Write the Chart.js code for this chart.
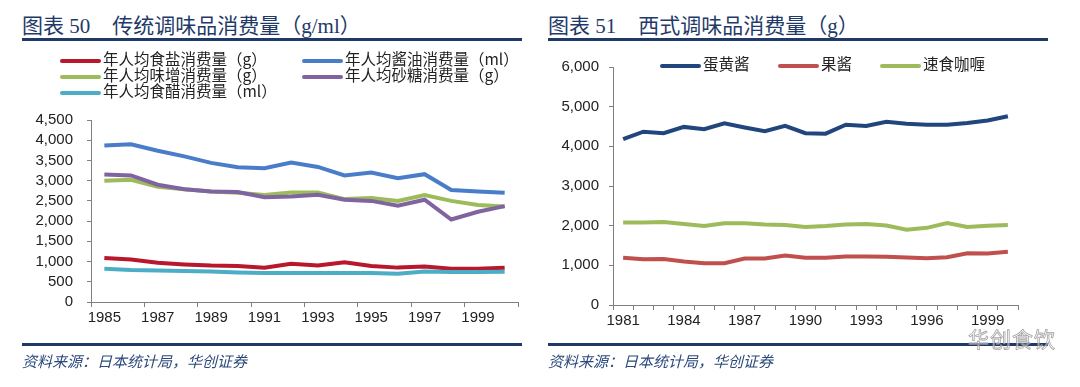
<!DOCTYPE html>
<html>
<head>
  <meta charset="utf-8">
  <title>传统与西式调味品消费量</title>
  <script src="https://cdn.jsdelivr.net/npm/chart.js"></script>
  <style>
    body {
      margin: 0;
      width: 1080px;
      height: 387px;
      background: #ffffff;
      position: relative;
      overflow: hidden;
      font-family: "Noto Sans CJK SC", sans-serif;
    }
    .title {
      position: absolute;
      top: 9px;
      font-family: "Liberation Serif", "Noto Sans CJK SC", serif;
      font-size: 21px;
      color: #1F3A68;
      white-space: nowrap;
    }
    .title .num { margin-right: 22px; }
    .rule {
      position: absolute;
      height: 3px;
      background: #1F3A68;
    }
    .source {
      position: absolute;
      top: 350px;
      font-size: 15px;
      font-style: italic;
      color: #2B4A7C;
    }
    .chart-box {
      position: absolute;
      top: 0;
      width: 540px;
      height: 387px;
    }
    .legend {
      position: absolute;
      font-size: 15.5px;
      color: #222;
      line-height: 16px;
    }
    .legend .item {
      position: absolute;
      white-space: nowrap;
    }
    .legend .swatch {
      display: inline-block;
      width: 41px;
      height: 4px;
      vertical-align: middle;
      margin-right: 2px;
      border-radius: 2px;
    }
    .watermark {
      position: absolute;
      left: 968px;
      top: 323px;
      font-size: 21px;
      color: rgba(255,255,255,0.5);
      -webkit-text-stroke: 0.8px rgba(140,140,140,0.8);
      letter-spacing: 1px;
    }
  </style>
</head>
<body>

  <div class="title" style="left:22px;"><span class="num">图表 50</span>传统调味品消费量（g/ml）</div>
  <div class="rule" style="left:22px; width:500px; top:38px;"></div>
  <div class="title" style="left:548px;"><span class="num">图表 51</span>西式调味品消费量（g）</div>
  <div class="rule" style="left:548px; width:500px; top:38px;"></div>

  <div class="chart-box" style="left:0;"><canvas id="chartTrad"></canvas></div>
  <div class="chart-box" style="left:540px;"><canvas id="chartWest"></canvas></div>

  <div class="legend" id="legendTrad"></div>
  <div class="legend" id="legendWest"></div>

  <div class="rule" style="left:22px; width:500px; top:343px;"></div>
  <div class="rule" style="left:548px; width:500px; top:343px;"></div>
  <div class="source" style="left:22px;">资料来源：日本统计局，华创证券</div>
  <div class="source" style="left:548px;">资料来源：日本统计局，华创证券</div>
  <div class="watermark">华创食饮</div>

  <script>
    // 1. Data - traditional seasonings, 1985-2000
    const tradYears = ['1985','1986','1987','1988','1989','1990','1991','1992',
                       '1993','1994','1995','1996','1997','1998','1999','2000'];
    const salt    = [1090, 1050, 970, 930, 900, 890, 850, 945, 900, 985, 890, 850, 880, 820, 820, 845];
    const soy     = [3870, 3900, 3740, 3600, 3440, 3330, 3310, 3450, 3340, 3130, 3200, 3060, 3160, 2770, 2730, 2700];
    const miso    = [3000, 3020, 2850, 2790, 2735, 2700, 2645, 2710, 2710, 2545, 2570, 2500, 2645, 2500, 2400, 2360];
    const sugar   = [3150, 3130, 2900, 2790, 2735, 2720, 2590, 2610, 2650, 2530, 2500, 2380, 2530, 2040, 2230, 2370];
    const vinegar = [820, 790, 780, 765, 755, 730, 715, 720, 720, 715, 715, 700, 755, 740, 740, 750];

    // 2. Data - western seasonings, 1981-2000
    const westYears = ['1981','1982','1983','1984','1985','1986','1987','1988','1989','1990',
                       '1991','1992','1993','1994','1995','1996','1997','1998','1999','2000'];
    const mayo  = [4180, 4370, 4330, 4490, 4430, 4580, 4475, 4380, 4515, 4330,
                   4320, 4545, 4515, 4620, 4570, 4545, 4545, 4590, 4650, 4760];
    const jam   = [1190, 1155, 1160, 1095, 1055, 1055, 1170, 1170, 1245, 1190,
                   1190, 1220, 1220, 1215, 1195, 1180, 1205, 1305, 1300, 1340];
    const curry = [2080, 2080, 2090, 2040, 1990, 2060, 2060, 2030, 2015, 1965,
                   1990, 2030, 2040, 2005, 1900, 1945, 2065, 1965, 2000, 2015];

    const tradSeries = [
      { label: '年人均食盐消费量（g）',  data: salt,    color: '#B8172C' },
      { label: '年人均酱油消费量（ml）', data: soy,     color: '#4A7DC9' },
      { label: '年人均味增消费量（g）',  data: miso,    color: '#9DBB5A' },
      { label: '年人均砂糖消费量（g）',  data: sugar,   color: '#8064A2' },
      { label: '年人均食醋消费量（ml）', data: vinegar, color: '#4BADC6' }
    ];
    const westSeries = [
      { label: '蛋黄酱',   data: mayo,  color: '#21467E' },
      { label: '果酱',     data: jam,   color: '#C0504D' },
      { label: '速食咖喱', data: curry, color: '#9DBB5A' }
    ];

    const tickFont = { family: 'Liberation Sans, Arial, sans-serif', size: 15 };
    const axisColor = '#7f7f7f';

    function makeChart(id, labels, series, opts) {
      return new Chart(document.getElementById(id), {
        type: 'line',
        data: {
          labels: labels,
          datasets: series.map((s, i) => ({
            label: s.label,
            data: s.data,
            borderColor: s.color,
            backgroundColor: s.color,
            borderWidth: opts.lineWidth,
            pointRadius: 0,
            tension: 0,
            order: -i
          }))
        },
        options: {
          responsive: true,
          maintainAspectRatio: false,
          animation: false,
          layout: { padding: opts.padding },
          plugins: { legend: { display: false }, tooltip: { enabled: false } },
          scales: {
            x: {
              offset: true,
              grid: {
                offset: true,
                drawOnChartArea: false,
                tickLength: 5,
                tickColor: (ctx) => (ctx.index % opts.markEvery ? 'rgba(0,0,0,0)' : axisColor)
              },
              border: { color: axisColor, width: 1 },
              ticks: {
                autoSkip: false,
                maxRotation: 0,
                font: tickFont,
                color: '#222',
                padding: 2,
                callback: (v, i) => (i % opts.labelEvery === 0 ? labels[i] : '')
              },
              afterFit: (s) => { s.height = 30; }
            },
            y: {
              min: 0,
              max: opts.yMax,
              grid: { drawOnChartArea: false, tickLength: 4, tickColor: axisColor },
              border: { color: axisColor, width: 1 },
              ticks: {
                autoSkip: false,
                stepSize: opts.yStep,
                font: tickFont,
                color: '#222',
                padding: opts.yPad,
                callback: (v) => v.toLocaleString('en-US')
              },
              afterFit: (s) => { s.width = opts.yWidth; }
            }
          }
        }
      });
    }

    // 3. Charts
    makeChart('chartTrad', tradYears, tradSeries, {
      lineWidth: 4, yMax: 4500, yStep: 500, yWidth: 91, yPad: 14,
      markEvery: 2, labelEvery: 2,
      padding: { top: 120, right: 22, bottom: 55, left: 0 }
    });
    makeChart('chartWest', westYears, westSeries, {
      lineWidth: 4, yMax: 6000, yStep: 1000, yWidth: 73, yPad: 10,
      markEvery: 1, labelEvery: 3,
      padding: { top: 67, right: 62, bottom: 52, left: 0 }
    });

    // 4. HTML legends
    function buildLegend(id, series, places) {
      const box = document.getElementById(id);
      series.forEach((s, i) => {
        const item = document.createElement('div');
        item.className = 'item';
        item.style.left = places[i][0] + 'px';
        item.style.top = places[i][1] + 'px';
        item.innerHTML = '<span class="swatch" style="background:' + s.color + '"></span>' + s.label;
        box.appendChild(item);
      });
    }
    buildLegend('legendTrad', tradSeries, [[60, 50], [302, 50], [60, 66], [302, 66], [60, 82]]);
    buildLegend('legendWest', westSeries, [[660, 55], [778, 55], [880, 55]]);
  </script>
</body>
</html>
